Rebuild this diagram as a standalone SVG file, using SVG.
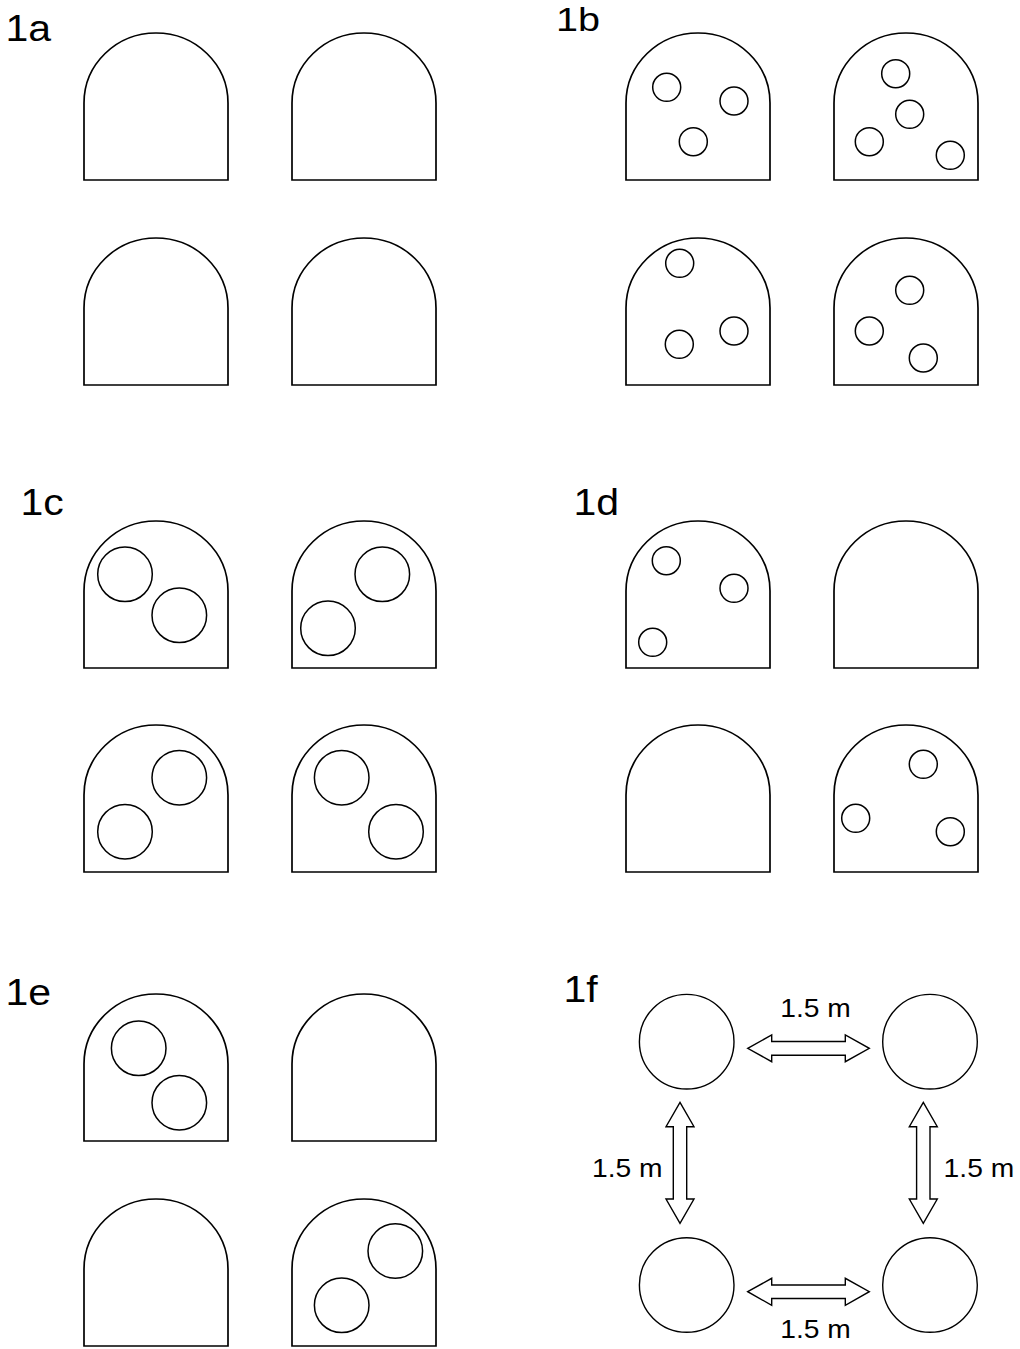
<svg xmlns="http://www.w3.org/2000/svg" xmlns:xlink="http://www.w3.org/1999/xlink" width="1020" height="1349" viewBox="0 0 1020 1349">
<style>
.arch{fill:#fff;stroke:#000;stroke-width:1.7}
.c{fill:none;stroke:#000;stroke-width:1.5}
.big{fill:#fff;stroke:#000;stroke-width:1.4}
.arr{fill:#fff;stroke:#000;stroke-width:1.4;stroke-linejoin:miter}
.lab{font-family:"Liberation Sans",Arial,sans-serif;font-size:36px;fill:#000}
.dim{font-family:"Liberation Sans",Arial,sans-serif;font-size:25px;fill:#000}
</style>
<defs>
<path id="arch" class="arch" d="M0,147 V70 A72,70 0 0 1 144,70 V147 Z"/>
</defs>
<rect width="1020" height="1349" fill="#fff"/>

<g id="panel-1a">
<text class="lab" x="5.5" y="41" textLength="45.6" lengthAdjust="spacingAndGlyphs">1a</text>
<use xlink:href="#arch" x="84" y="33"/>
<use xlink:href="#arch" x="292" y="33"/>
<use xlink:href="#arch" x="84" y="238"/>
<use xlink:href="#arch" x="292" y="238"/>
</g>

<g id="panel-1b">
<text class="lab" x="556" y="31" font-size="34" textLength="44" lengthAdjust="spacingAndGlyphs" style="font-size:34px">1b</text>
<use xlink:href="#arch" x="626" y="33"/>
<use xlink:href="#arch" x="834" y="33"/>
<use xlink:href="#arch" x="626" y="238"/>
<use xlink:href="#arch" x="834" y="238"/>
<circle class="c" cx="666.7" cy="87.3" r="14"/>
<circle class="c" cx="734" cy="101" r="14"/>
<circle class="c" cx="693.3" cy="141.7" r="14"/>
<circle class="c" cx="895.7" cy="73.7" r="14"/>
<circle class="c" cx="909.7" cy="114.3" r="14"/>
<circle class="c" cx="869.3" cy="141.7" r="14"/>
<circle class="c" cx="950.3" cy="155.3" r="14"/>
<circle class="c" cx="679.7" cy="263.3" r="14"/>
<circle class="c" cx="679.3" cy="344.3" r="14"/>
<circle class="c" cx="734" cy="331" r="14"/>
<circle class="c" cx="909.7" cy="290.3" r="14"/>
<circle class="c" cx="869.3" cy="331" r="14"/>
<circle class="c" cx="923.3" cy="358" r="14"/>
</g>

<g id="panel-1c">
<text class="lab" x="20.5" y="515" textLength="43.3" lengthAdjust="spacingAndGlyphs">1c</text>
<use xlink:href="#arch" x="84" y="521"/>
<use xlink:href="#arch" x="292" y="521"/>
<use xlink:href="#arch" x="84" y="725"/>
<use xlink:href="#arch" x="292" y="725"/>
<circle class="c" cx="125" cy="574.3" r="27.3"/>
<circle class="c" cx="179.3" cy="615.3" r="27.3"/>
<circle class="c" cx="382.3" cy="574.3" r="27.3"/>
<circle class="c" cx="328" cy="628.3" r="27.3"/>
<circle class="c" cx="179.3" cy="777.7" r="27.3"/>
<circle class="c" cx="125" cy="831.7" r="27.3"/>
<circle class="c" cx="341.7" cy="777.7" r="27.3"/>
<circle class="c" cx="396" cy="831.7" r="27.3"/>
</g>

<g id="panel-1d">
<text class="lab" x="573.5" y="515" textLength="45.6" lengthAdjust="spacingAndGlyphs">1d</text>
<use xlink:href="#arch" x="626" y="521"/>
<use xlink:href="#arch" x="834" y="521"/>
<use xlink:href="#arch" x="626" y="725"/>
<use xlink:href="#arch" x="834" y="725"/>
<circle class="c" cx="666.3" cy="560.7" r="14"/>
<circle class="c" cx="734" cy="588.3" r="14"/>
<circle class="c" cx="652.7" cy="642.3" r="14"/>
<circle class="c" cx="923.3" cy="764.3" r="14"/>
<circle class="c" cx="855.7" cy="818.3" r="14"/>
<circle class="c" cx="950.3" cy="831.7" r="14"/>
</g>

<g id="panel-1e">
<text class="lab" x="5.5" y="1005" textLength="45.6" lengthAdjust="spacingAndGlyphs">1e</text>
<use xlink:href="#arch" x="84" y="994"/>
<use xlink:href="#arch" x="292" y="994"/>
<use xlink:href="#arch" x="84" y="1199"/>
<use xlink:href="#arch" x="292" y="1199"/>
<circle class="c" cx="138.7" cy="1048.3" r="27.3"/>
<circle class="c" cx="179.3" cy="1102.7" r="27.3"/>
<circle class="c" cx="395.3" cy="1251" r="27.3"/>
<circle class="c" cx="341.7" cy="1305.3" r="27.3"/>
</g>

<g id="panel-1f">
<text class="lab" x="563.5" y="1002" textLength="34.2" lengthAdjust="spacingAndGlyphs">1f</text>
<g id="post-tl"><circle class="big" cx="686.7" cy="1041.7" r="47.3"/></g>
<g id="post-tr"><circle class="big" cx="930" cy="1041.7" r="47.3"/></g>
<g id="post-bl"><circle class="big" cx="686.7" cy="1285" r="47.3"/></g>
<g id="post-br"><circle class="big" cx="930" cy="1285" r="47.3"/></g>
<g id="connectors">
<polygon class="arr" points="747.7,1048.3 771.7,1035 771.7,1041.5 845.3,1041.5 845.3,1035 869.3,1048.3 845.3,1061.7 845.3,1055.2 771.7,1055.2 771.7,1061.7"/>
<polygon class="arr" points="747.7,1291.7 771.7,1278.3 771.7,1285 845.3,1285 845.3,1278.3 869.3,1291.7 845.3,1305.3 845.3,1298.5 771.7,1298.5 771.7,1305.3"/>
<polygon class="arr" points="680,1102.3 694,1126.7 686.7,1126.7 686.7,1199 694,1199 680,1223.3 666,1199 673.3,1199 673.3,1126.7 666,1126.7"/>
<polygon class="arr" points="923.3,1102.3 937.3,1126.7 930,1126.7 930,1199 937.3,1199 923.3,1223.3 909.3,1199 916.6,1199 916.6,1126.7 909.3,1126.7"/>
</g>
<text class="dim" x="780.2" y="1017.3" textLength="70.6" lengthAdjust="spacingAndGlyphs">1.5 m</text>
<text class="dim" x="780.2" y="1338.3" textLength="70.6" lengthAdjust="spacingAndGlyphs">1.5 m</text>
<text class="dim" x="592" y="1176.7" textLength="70.6" lengthAdjust="spacingAndGlyphs">1.5 m</text>
<text class="dim" x="943.6" y="1176.7" textLength="70.6" lengthAdjust="spacingAndGlyphs">1.5 m</text>
</g>
</svg>
